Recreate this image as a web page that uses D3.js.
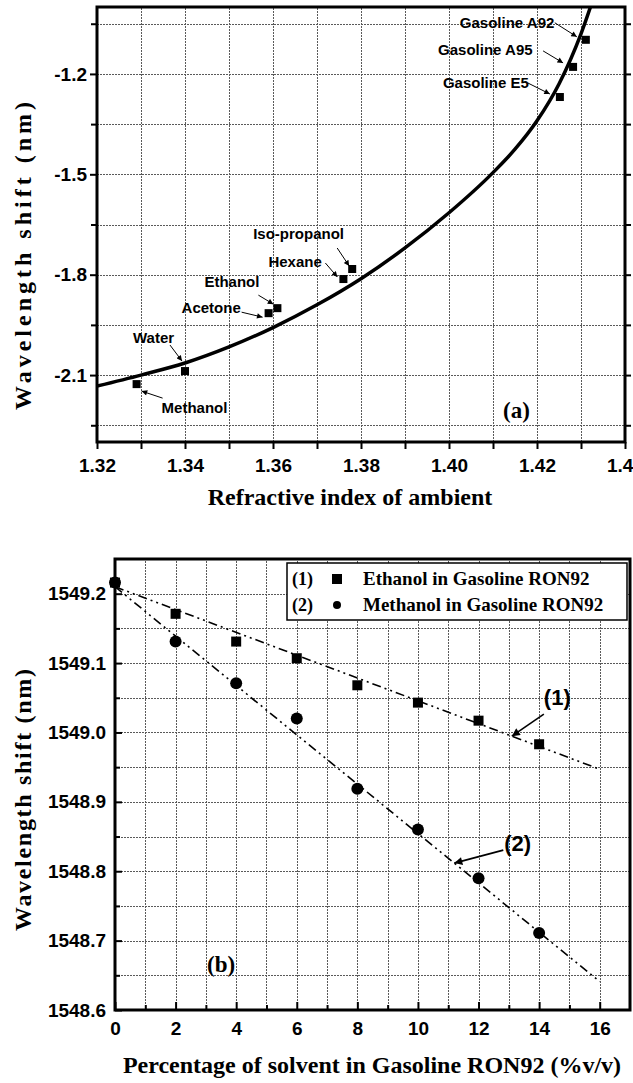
<!DOCTYPE html>
<html lang="en">
<head>
<meta charset="UTF-8">
<title>Wavelength shift</title>
<script src="https://d3js.org/d3.v7.min.js"></script>
<style>
    body {margin: 0; background: #fff;}
    text {font-family: "Liberation Sans", Arial, sans-serif; font-weight: bold; fill: #000;}
    text.serif {font-family: "Liberation Serif", "Times New Roman", serif;}
</style>
</head>
<body>
<script>
    const width = 633;
    const height = 1083;

    // ---- panel (a) data
    const riNames  = ["Methanol", "Water", "Acetone", "Ethanol", "Hexane", "Iso-propanol",
                      "Gasoline E5", "Gasoline A95", "Gasoline A92"];
    const riIndex  = [1.329, 1.340, 1.359, 1.361, 1.376, 1.378, 1.4252, 1.4282, 1.4311];
    const riShift  = [-2.127, -2.088, -1.915, -1.900, -1.813, -1.783, -1.269, -1.179, -1.098];
    const fitIndex = [1.32, 1.33, 1.34, 1.35, 1.36, 1.37, 1.38, 1.39, 1.40, 1.41, 1.415, 1.42, 1.425, 1.43, 1.4335];
    const fitShift = [-2.133, -2.100, -2.064, -2.016, -1.958, -1.890, -1.812, -1.720, -1.615, -1.495,
                      -1.425, -1.340, -1.230, -1.080, -0.947];
    const riTicks    = [1.32, 1.34, 1.36, 1.38, 1.40, 1.42, 1.44];
    const shiftTicks = [-2.1, -1.8, -1.5, -1.2];

    // ---- panel (b) data
    const percent       = [0, 2, 4, 6, 8, 10, 12, 14];
    const ethanolShift  = [1549.216, 1549.171, 1549.131, 1549.107, 1549.068, 1549.043, 1549.017, 1548.983];
    const methanolShift = [1549.216, 1549.131, 1549.071, 1549.020, 1548.919, 1548.860, 1548.790, 1548.711];
    const linePercent   = [0, 16];
    const ethanolLine   = [1549.21, 1548.947];
    const methanolLine  = [1549.21, 1548.641];
    const percentTicks  = [0, 2, 4, 6, 8, 10, 12, 14, 16];
    const wlTicks       = [1548.6, 1548.7, 1548.8, 1548.9, 1549.0, 1549.1, 1549.2];
    const legendNames   = ["Ethanol in Gasoline RON92", "Methanol in Gasoline RON92"];

    const svg = d3.select("body").append("svg")
            .attr("width", width).attr("height", height)
            .style("display", "block");

    const defs = svg.append("defs");
    function arrowHead(id, size) {
        defs.append("marker").attr("id", id)
                .attr("viewBox", "0 0 10 10").attr("refX", 10).attr("refY", 5)
                .attr("markerUnits", "userSpaceOnUse")
                .attr("markerWidth", size).attr("markerHeight", size * 0.8)
                .attr("orient", "auto")
                .append("path").attr("d", "M0,0 L10,5 L0,10 z").style("fill", "black");
    }
    arrowHead("headA", 7);
    arrowHead("headB", 10);

    // dotted grid, snapped to the pixel centre so it stays crisp
    function grid(g, xs, ys, x, y) {
        const snap = v => Math.round(v) + 0.5;
        g.selectAll("line.vg").data(xs).enter().append("line").attr("class", "vg")
                .attr("x1", d => snap(x(d))).attr("x2", d => snap(x(d)))
                .attr("y1", y.range()[0]).attr("y2", y.range()[1]);
        g.selectAll("line.hg").data(ys).enter().append("line").attr("class", "hg")
                .attr("y1", d => snap(y(d))).attr("y2", d => snap(y(d)))
                .attr("x1", x.range()[0]).attr("x2", x.range()[1]);
        g.selectAll("line").style("stroke", "#5a5a5a").style("stroke-width", 1)
                .style("stroke-dasharray", "2,1")
                .attr("shape-rendering", "crispEdges");
    }

    function styleAxis(g, size) {
        g.select(".domain").remove();
        g.selectAll(".tick line").style("stroke", "black").style("stroke-width", 2);
        g.selectAll(".tick text").style("font-size", size + "px")
                .style("font-family", "'Liberation Sans', Arial, sans-serif").style("font-weight", "bold");
    }

    // ================= panel (a)
    const xa = d3.scaleLinear().domain([1.32, 1.44]).range([97, 625]);
    const ya = d3.scaleLinear().domain([-2.3, -1.0]).range([442, 7]);
    const pa = svg.append("g");

    grid(pa.append("g"), d3.range(1.33, 1.435, 0.01), d3.range(-2.25, -1.0, 0.15), xa, ya);

    const minorRi = d3.range(1.33, 1.44, 0.02);
    const minorShift = [-2.25, -1.95, -1.65, -1.35, -1.05];

    pa.append("g").attr("transform", "translate(0,442)")
            .call(d3.axisBottom(xa).tickValues(riTicks).tickFormat(d => d.toFixed(2)).tickSize(7).tickPadding(10))
            .call(g => styleAxis(g, 19));
    pa.append("g").attr("transform", "translate(0,442)")
            .call(d3.axisBottom(xa).tickValues(minorRi).tickFormat("").tickSize(7))
            .call(g => styleAxis(g, 19));
    pa.append("g").attr("transform", "translate(97,0)")
            .call(d3.axisLeft(ya).tickValues(shiftTicks).tickFormat(d => d.toFixed(1)).tickSize(7).tickPadding(3))
            .call(g => styleAxis(g, 19));
    pa.append("g").attr("transform", "translate(97,0)")
            .call(d3.axisLeft(ya).tickValues(minorShift).tickFormat("").tickSize(6))
            .call(g => styleAxis(g, 19));
    pa.append("g").attr("transform", "translate(625,0)")
            .call(d3.axisRight(ya).tickValues(shiftTicks.concat(minorShift)).tickFormat("").tickSize(6))
            .call(g => styleAxis(g, 19));

    defs.append("clipPath").attr("id", "clipA").append("rect")
            .attr("x", 97).attr("y", 7).attr("width", 528).attr("height", 435);

    const fitLine = d3.line().x(d => xa(d[0])).y(d => ya(d[1])).curve(d3.curveMonotoneX);
    pa.append("path")
            .datum(fitIndex.map((d, i) => [d, fitShift[i]]))
            .attr("clip-path", "url(#clipA)")
            .attr("d", fitLine)
            .style("fill", "none").style("stroke", "black").style("stroke-width", 3.5);

    pa.selectAll("rect.pt").data(riIndex).enter().append("rect")
            .attr("x", (d, i) => xa(d) - 4).attr("y", (d, i) => ya(riShift[i]) - 4)
            .attr("width", 8).attr("height", 8).style("fill", "black");

    // label offsets (px from the point): text position, arrow start, arrow end
    const riLayout = {
        "Methanol":     {t: [25, 29],   a: [26, 14],   b: [5, 7]},
        "Water":        {t: [-52, -28], a: [-15, -26], b: [-3, -10]},
        "Acetone":      {t: [-87, 0],   a: [-27, -1],  b: [-6, 4]},
        "Ethanol":      {t: [-73, -21], a: [-19, -13], b: [-4, -4]},
        "Hexane":       {t: [-75, -12], a: [-18, -16], b: [-6, -2]},
        "Iso-propanol": {t: [-99, -30], a: [-15, -21], b: [-3, -3]},
        "Gasoline E5":  {t: [-117, -9], a: [-32, -14], b: [-10, -3]},
        "Gasoline A95": {t: [-135, -12], a: [-30, -16], b: [-10, -4]},
        "Gasoline A92": {t: [-126, -12], a: [-31, -17], b: [-9, -3]}
    };
    riNames.forEach((name, i) => {
        const px = xa(riIndex[i]), py = ya(riShift[i]);
        const L = riLayout[name];
        pa.append("text").attr("x", px + L.t[0]).attr("y", py + L.t[1])
                .style("font-size", "15px").text(name);
        pa.append("line")
                .attr("x1", px + L.a[0]).attr("y1", py + L.a[1])
                .attr("x2", px + L.b[0]).attr("y2", py + L.b[1])
                .style("stroke", "black").style("stroke-width", 1)
                .attr("marker-end", "url(#headA)");
    });

    // frame
    pa.append("path").attr("d", "M97,442 V7 H625 V442 Z")
            .style("fill", "none").style("stroke", "black").style("stroke-width", 3);

    pa.append("text").attr("class", "serif").attr("x", 503).attr("y", 418)
            .style("font-size", "23px").text("(a)");
    pa.append("text").attr("class", "serif")
            .attr("text-anchor", "middle").attr("x", 350).attr("y", 505)
            .style("font-size", "24px").text("Refractive index of ambient");
    pa.append("text").attr("class", "serif")
            .attr("text-anchor", "middle")
            .attr("transform", "translate(31,256) rotate(-90)")
            .attr("textLength", 308).attr("lengthAdjust", "spacing")
            .style("font-size", "24px").text("Wavelength shift (nm)");

    // ================= panel (b)
    const xb = d3.scaleLinear().domain([0, 17]).range([115, 630]);
    const yb = d3.scaleLinear().domain([1548.6, 1549.25]).range([1010, 559]);
    const pb = svg.append("g");

    grid(pb.append("g"), d3.range(1, 17, 1), d3.range(1548.65, 1549.25, 0.05), xb, yb);

    pb.append("g").attr("transform", "translate(0,1010)")
            .call(d3.axisBottom(xb).tickValues(percentTicks).tickFormat(d3.format("d")).tickSize(-8).tickPadding(12))
            .call(g => styleAxis(g, 19));
    pb.append("g").attr("transform", "translate(0,1010)")
            .call(d3.axisBottom(xb).tickValues(d3.range(1, 17, 2)).tickFormat("").tickSize(-5))
            .call(g => styleAxis(g, 19));
    pb.append("g").attr("transform", "translate(115,0)")
            .call(d3.axisLeft(yb).tickValues(wlTicks).tickFormat(d => d.toFixed(1)).tickSize(-7).tickPadding(9))
            .call(g => styleAxis(g, 19));
    pb.append("g").attr("transform", "translate(115,0)")
            .call(d3.axisLeft(yb).tickValues(d3.range(1548.65, 1549.25, 0.1)).tickFormat("").tickSize(-5))
            .call(g => styleAxis(g, 19));

    const straight = d3.line().x(d => xb(d[0])).y(d => yb(d[1]));
    [ethanolLine, methanolLine].forEach(vals => {
        pb.append("path")
                .datum(linePercent.map((d, i) => [d, vals[i]]))
                .attr("d", straight)
                .style("fill", "none").style("stroke", "black").style("stroke-width", 1.6)
                .style("stroke-dasharray", "9,4,2,4,2,4");
    });

    pb.selectAll("rect.sq").data(percent).enter().append("rect")
            .attr("x", d => xb(d) - 5).attr("y", (d, i) => yb(ethanolShift[i]) - 5)
            .attr("width", 10).attr("height", 10).style("fill", "black");
    pb.selectAll("circle.ci").data(percent).enter().append("circle")
            .attr("cx", d => xb(d)).attr("cy", (d, i) => yb(methanolShift[i]))
            .attr("r", 6).style("fill", "black");

    // curve labels with arrows (tip on the fitted line)
    [[13.1, ethanolLine, "(1)", [32, -31], [32, -26]],
     [11.2, methanolLine, "(2)", [50, -12], [49, -17]]].forEach(([xp, vals, lab, t, a]) => {
        const yv = vals[0] + (vals[1] - vals[0]) * (xp - linePercent[0]) / (linePercent[1] - linePercent[0]);
        const px = xb(xp), py = yb(yv);
        pb.append("text").attr("x", px + t[0]).attr("y", py + t[1])
                .style("font-size", "22px").text(lab);
        pb.append("line").attr("x1", px + a[0]).attr("y1", py + a[1] + 4)
                .attr("x2", px).attr("y2", py)
                .style("stroke", "black").style("stroke-width", 1.6)
                .attr("marker-end", "url(#headB)");
    });

    // legend
    const lg = pb.append("g");
    lg.append("rect").attr("x", 287).attr("y", 563).attr("width", 340).attr("height", 57)
            .style("fill", "white").style("stroke", "black").style("stroke-width", 1.5);
    legendNames.forEach((name, i) => {
        const yy = 585 + i * 26;
        lg.append("text").attr("class", "serif").attr("x", 292).attr("y", yy)
                .style("font-size", "18px").text("(" + (i + 1) + ")");
        if (i === 0) {
            lg.append("rect").attr("x", 332).attr("y", yy - 11).attr("width", 10).attr("height", 10)
                    .style("fill", "black");
        } else {
            lg.append("circle").attr("cx", 337).attr("cy", yy - 6).attr("r", 4).style("fill", "black");
        }
        lg.append("text").attr("class", "serif").attr("x", 363).attr("y", yy)
                .style("font-size", "19px").text(name);
    });

    pb.append("path").attr("d", "M115,1010 V559 H630 V1010 Z")
            .style("fill", "none").style("stroke", "black").style("stroke-width", 3);

    pb.append("text").attr("class", "serif").attr("x", 207).attr("y", 972)
            .style("font-size", "23px").text("(b)");
    pb.append("text").attr("class", "serif")
            .attr("text-anchor", "middle").attr("x", 372).attr("y", 1073)
            .style("font-size", "24px").text("Percentage of solvent in Gasoline RON92 (%v/v)");
    pb.append("text").attr("class", "serif")
            .attr("text-anchor", "middle")
            .attr("transform", "translate(31,800) rotate(-90)")
            .attr("textLength", 262).attr("lengthAdjust", "spacing")
            .style("font-size", "24px").text("Wavelength shift (nm)");
</script>
</body>
</html>
